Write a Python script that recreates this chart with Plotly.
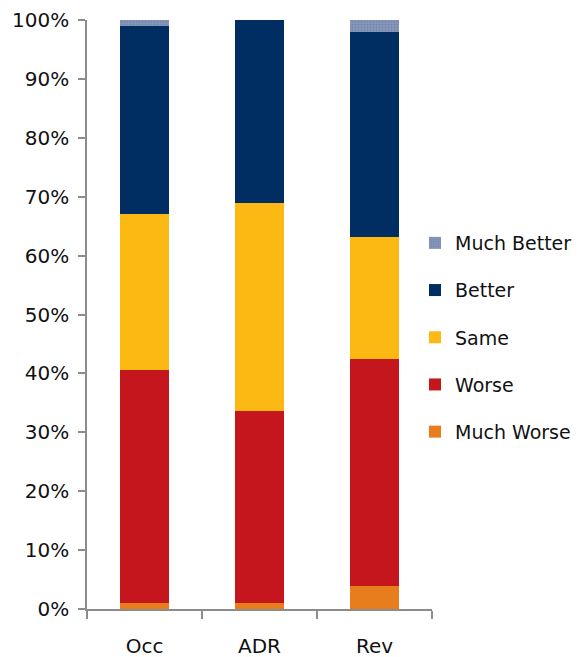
import plotly.graph_objects as go

# Share of responses (%) per metric
categories = ["Occ", "ADR", "Rev"]
much_worse = [1.0, 1.0, 3.9]
worse = [39.5, 32.7, 38.6]
same = [26.6, 35.3, 20.7]
better = [31.9, 31.0, 34.8]
much_better = [1.0, 0.0, 2.0]

# (name, values, colour, legend rank) — stacked bottom to top
series = [
    ("Much Worse", much_worse, "#E87D1E", 5),
    ("Worse", worse, "#C4161C", 4),
    ("Same", same, "#FDB913", 3),
    ("Better", better, "#002D62", 2),
    ("Much Better", much_better, "#7A8CB0", 1),
]

FONT = "DejaVu Sans"

fig = go.Figure()
for name, vals, color, rank in series:
    marker = dict(color=color, line=dict(width=0))
    if name == "Much Better":
        marker["pattern"] = dict(shape=".", fgcolor="#5E739D", bgcolor="#8798BA",
                                 size=3, solidity=0.4)
    fig.add_trace(go.Bar(
        x=categories, y=vals, name=name, marker=marker,
        legendgroup=name, legendrank=rank, hoverinfo="skip",
    ))

fig.update_layout(
    barmode="stack",
    bargap=0.57,
    width=585, height=657,
    margin=dict(l=87, r=153, t=20, b=48, autoexpand=False),
    paper_bgcolor="white", plot_bgcolor="white",
    font=dict(family=FONT, size=20, color="#111111"),
    showlegend=True,
    legend=dict(
        traceorder="grouped",
        tracegroupgap=19.5,
        xref="container", yref="container",
        x=415 / 585, y=1 - 224 / 657,
        xanchor="left", yanchor="top",
        font=dict(family=FONT, size=19, color="#111111"),
        itemwidth=30,
        bgcolor="rgba(0,0,0,0)",
    ),
)

fig.update_yaxes(
    range=[0, 100],
    tickvals=list(range(0, 101, 10)),
    ticktext=[f"{v}%" for v in range(0, 101, 10)],
    showgrid=False, zeroline=False,
    showline=True, linecolor="#8c8c8c", linewidth=1.5,
    ticks="outside", ticklen=7, tickcolor="#8c8c8c", tickwidth=1.5,
    ticklabelstandoff=5,
    tickfont=dict(family=FONT, size=20, color="#111111"),
)
fig.update_xaxes(
    showgrid=False, zeroline=False,
    showline=True, linecolor="#8c8c8c", linewidth=1.5,
    ticks="outside", ticklen=8, tickcolor="#8c8c8c", tickwidth=1.5,
    tickson="boundaries",
    ticklabelstandoff=18,
    tickfont=dict(family=FONT, size=20, color="#111111"),
)

fig.write_html("out.html")
